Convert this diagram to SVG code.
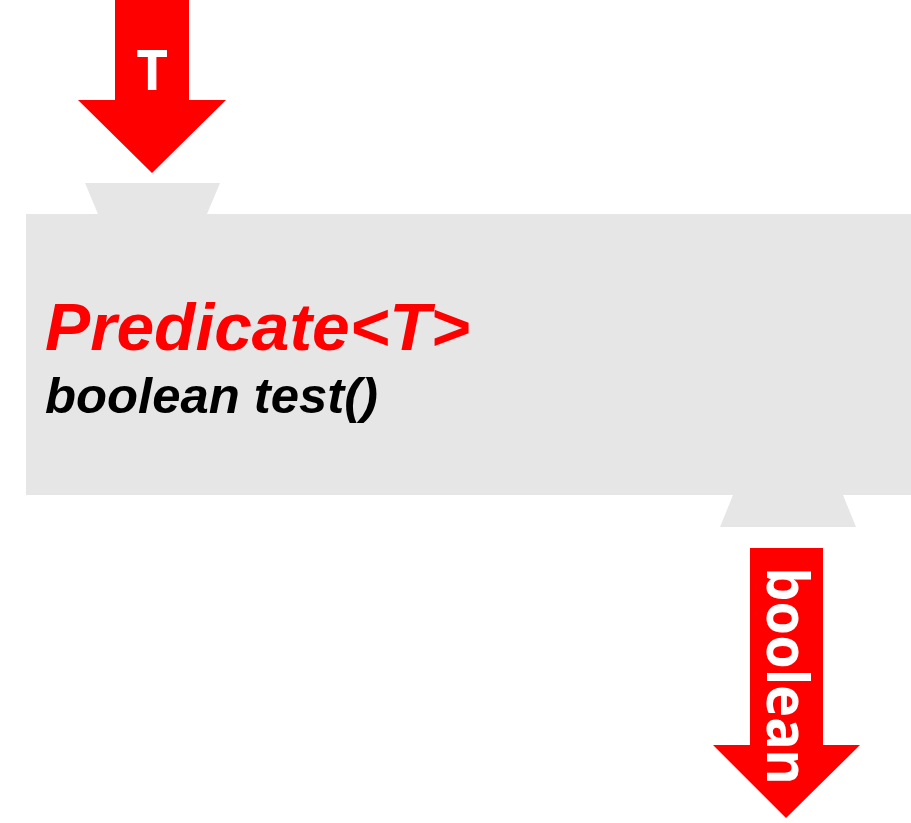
<svg xmlns="http://www.w3.org/2000/svg" width="911" height="823" viewBox="0 0 911 823">
<style>
.arrow{fill:#ff0000}
.port{fill:#e6e6e6}
.lbl{font-family:"Noto Sans","Liberation Sans",sans-serif;font-weight:bold;fill:#ffffff}
.title{font-family:"Liberation Sans","Noto Sans",sans-serif;font-weight:bold;font-style:italic}
</style>
<rect width="911" height="823" fill="#ffffff"/>
<g id="predicate">
<polygon class="port" points="85,183 220,183 207,214 98,214"/>
<rect class="port" x="26" y="214" width="885" height="281"/>
<polygon class="port" points="733,495 843,495 856,527 720,527"/>
<text class="title" x="45" y="350" font-size="66" fill="#ff0000" textLength="425" lengthAdjust="spacingAndGlyphs">Predicate&lt;T&gt;</text>
<text class="title" x="45" y="413" font-size="50" fill="#000000" textLength="333" lengthAdjust="spacingAndGlyphs">boolean test()</text>
</g>
<g id="connectors">
<g id="input-T">
<polygon class="arrow" points="115,0 189,0 189,100 226,100 152,173 78,100 115,100"/>
<text class="lbl" x="152" y="90" font-size="55" text-anchor="middle">T</text>
</g>
<g id="output-boolean">
<polygon class="arrow" points="750,548 823,548 823,745 860,745 786,818 713,745 750,745"/>
<text class="lbl" transform="translate(767,676) rotate(90)" font-size="58" text-anchor="middle" textLength="217" lengthAdjust="spacingAndGlyphs">boolean</text>
</g>
</g>
</svg>
